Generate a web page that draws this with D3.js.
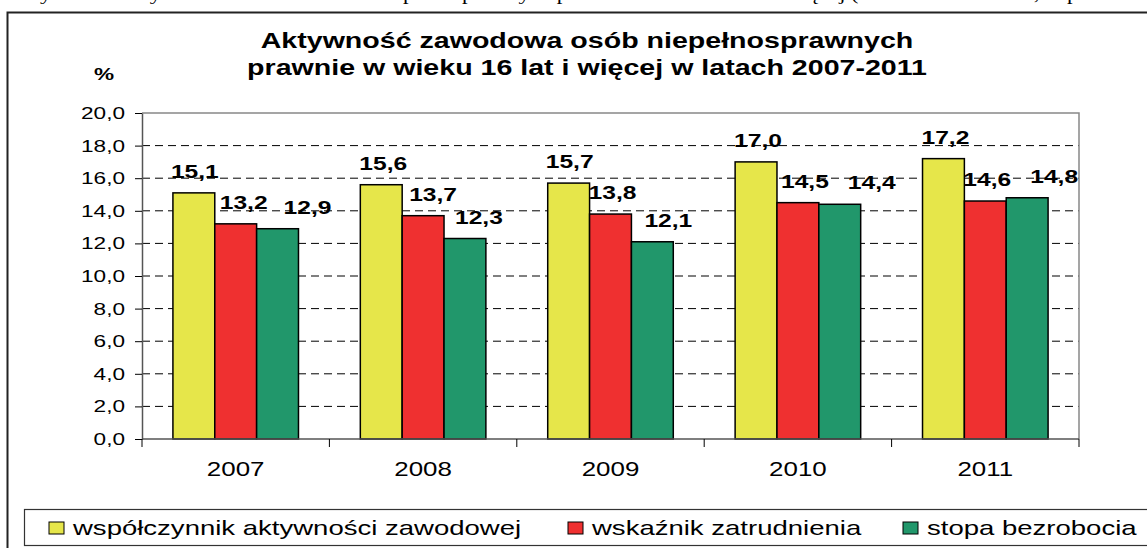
<!DOCTYPE html>
<html>
<head>
<meta charset="utf-8">
<script src="https://cdn.jsdelivr.net/npm/d3@7"></script>
<style>
  body { margin: 0; background: #fff; }
  svg { display: block; }
  text { font-family: Arial, "Liberation Sans", sans-serif; }
</style>
</head>
<body>
<div id="chart"></div>
<script>
// data
const years = ['2007', '2008', '2009', '2010', '2011'];
const seriesNames = ['współczynnik aktywności zawodowej', 'wskaźnik zatrudnienia', 'stopa bezrobocia'];
const activityRate = [15.1, 15.6, 15.7, 17.0, 17.2];
const employmentRate = [13.2, 13.7, 13.8, 14.5, 14.6];
const unemploymentRate = [12.9, 12.3, 12.1, 14.4, 14.8];
const yTicks = [0, 2, 4, 6, 8, 10, 12, 14, 16, 18, 20];
const titleLines = ['Aktywność zawodowa osób niepełnosprawnych', 'prawnie w wieku 16 lat i więcej w latach 2007-2011'];

const colors = ['#e6e64a', '#ef3030', '#21976b'];
// labels were nudged by hand in the source chart (px, right)
const labelShift = [[1, 2, 1, 2, 2], [8, 10, 2, 7, 2], [30, 14, 16, 32, 27]];

const width = 1147, height = 548;
const SX = 1.33; // the source image is stretched horizontally, so is the text
const plot = { left: 142, top: 113, right: 1079, bottom: 439 };

const series = [activityRate, employmentRate, unemploymentRate];
const fmt = v => v.toFixed(1).replace('.', ',');

const svg = d3.select('#chart').append('svg')
    .attr('width', width)
    .attr('height', height);

// stretched text helper
function stext(g, x, y, str) {
  return g.append('text')
      .attr('transform', `translate(${x},${y}) scale(${SX},1)`)
      .text(str);
}

// remains of the caption line above the chart (clipped by the page)
stext(svg, 20, 0, 'Wykres 2. Aktywność zawodowa osób niepełnosprawnych prawnie w wieku 16 lat i więcej (dane średnioroczne, w procentach)')
    .style('font-family', '"Times New Roman", "Liberation Serif", serif')
    .style('font-size', '17px');

// outer frame
svg.append('rect')
    .attr('x', 7.5).attr('y', 12.5)
    .attr('width', 1200).attr('height', 600)
    .attr('fill', 'none')
    .attr('stroke', '#222')
    .attr('stroke-width', 2);

// title
titleLines.forEach((t, i) => {
  stext(svg, 587, 48 + i * 27, t)
      .attr('text-anchor', 'middle')
      .style('font-size', '21.5px')
      .style('font-weight', 'bold');
});
stext(svg, 104, 80, '%')
    .attr('text-anchor', 'middle')
    .style('font-size', '17px')
    .style('font-weight', 'bold');

const x = d3.scaleBand()
    .domain(years)
    .range([plot.left, plot.right])
    .paddingInner(0.33)
    .paddingOuter(0.165);

const xs = d3.scaleBand()
    .domain(d3.range(series.length))
    .range([0, x.bandwidth()]);

const y = d3.scaleLinear()
    .domain([0, 20])
    .range([plot.bottom, plot.top]);

// dashed gridlines
svg.append('g')
    .selectAll('line')
    .data(yTicks.filter(t => t > 0 && t < 20))
    .join('line')
    .attr('x1', plot.left).attr('x2', plot.right)
    .attr('y1', d => y(d)).attr('y2', d => y(d))
    .attr('stroke', '#000')
    .attr('stroke-width', 1)
    .attr('stroke-dasharray', '8,5');

// plot frame top / right
svg.append('path')
    .attr('d', `M${plot.left},${y(20)}H${plot.right}V${plot.bottom}`)
    .attr('fill', 'none')
    .attr('stroke', '#888')
    .attr('stroke-width', 1.5);

// bars
const groups = svg.append('g')
    .selectAll('g')
    .data(years)
    .join('g')
    .attr('transform', d => `translate(${x(d)},0)`);

groups.selectAll('rect')
    .data((d, i) => series.map((s, k) => ({ k, v: s[i] })))
    .join('rect')
    .attr('x', d => xs(d.k))
    .attr('y', d => y(d.v))
    .attr('width', xs.bandwidth())
    .attr('height', d => y(0) - y(d.v))
    .attr('fill', d => colors[d.k])
    .attr('stroke', '#000')
    .attr('stroke-width', 1.5);

// value labels
groups.each(function(yr, i) {
  const g = d3.select(this);
  series.forEach((s, k) => {
    stext(g, xs(k) + xs.bandwidth() / 2 + labelShift[k][i], y(s[i]) - 15, fmt(s[i]))
        .attr('text-anchor', 'middle')
        .style('font-size', '18.5px')
        .style('font-weight', 'bold');
  });
});

// y axis
const yAxis = svg.append('g')
    .attr('transform', `translate(${plot.left},0)`)
    .call(d3.axisLeft(y).tickValues(yTicks).tickSize(7).tickSizeOuter(0).tickFormat(fmt));
yAxis.select('.domain').attr('stroke', '#555').attr('stroke-width', 1.5);
yAxis.selectAll('.tick line').attr('stroke', '#000');
yAxis.selectAll('.tick text')
    .attr('x', -17 / SX)
    .attr('transform', `scale(${SX},1)`)
    .attr('fill', '#000')
    .style('font-size', '17px')
    .style('font-family', 'Arial, "Liberation Sans", sans-serif');

// x axis: ticks on category boundaries
const xAxis = svg.append('g');
xAxis.append('line')
    .attr('x1', plot.left).attr('x2', plot.right)
    .attr('y1', plot.bottom).attr('y2', plot.bottom)
    .attr('stroke', '#555').attr('stroke-width', 1.5);
xAxis.selectAll('line.tick')
    .data(d3.range(years.length + 1))
    .join('line')
    .attr('class', 'tick')
    .attr('x1', i => plot.left + i * x.step())
    .attr('x2', i => plot.left + i * x.step())
    .attr('y1', plot.bottom).attr('y2', plot.bottom + 8)
    .attr('stroke', '#000');
years.forEach(yr => {
  stext(xAxis, x(yr) + x.bandwidth() / 2, plot.bottom + 37, yr)
      .attr('text-anchor', 'middle')
      .style('font-size', '19.5px');
});

// legend
const legend = svg.append('g');
legend.append('rect')
    .attr('x', 24.5).attr('y', 509.5)
    .attr('width', 1200).attr('height', 36)
    .attr('fill', '#fff')
    .attr('stroke', '#333')
    .attr('stroke-width', 1.2);
const legendX = [49, 568, 903];
seriesNames.forEach((name, k) => {
  legend.append('rect')
      .attr('x', legendX[k]).attr('y', 522)
      .attr('width', 15).attr('height', 12)
      .attr('fill', colors[k])
      .attr('stroke', '#000')
      .attr('stroke-width', 1);
  stext(legend, legendX[k] + 24, 535, name)
      .style('font-size', '20.7px');
});
</script>
</body>
</html>
